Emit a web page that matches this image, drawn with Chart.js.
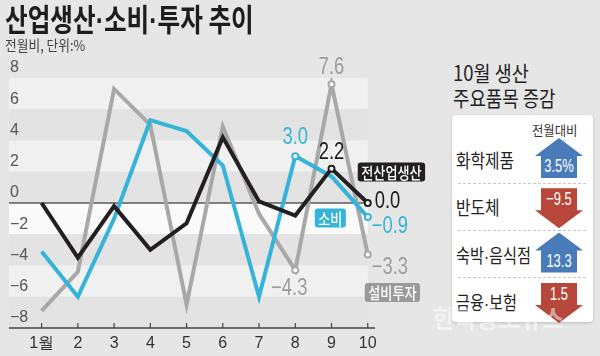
<!DOCTYPE html>
<html><head><meta charset="utf-8">
<script src="https://cdn.jsdelivr.net/npm/chart.js@4"></script>
<style>
html,body{margin:0;padding:0;}
body{width:600px;height:356px;overflow:hidden;background:#e6e6e6;position:relative;font-family:'Noto Sans CJK KR',sans-serif;}
.t{position:absolute;white-space:nowrap;transform-origin:0 0;z-index:3;}
.d{font-family:'Liberation Sans',sans-serif;}
#c{position:absolute;left:0;top:0;z-index:1;}
#card{position:absolute;left:452px;top:115px;width:141px;height:207px;background:#fff;border-radius:4px;box-shadow:0 1px 3px rgba(0,0,0,0.18);z-index:2;}
.arrow{position:absolute;width:48px;height:40px;z-index:3;}
.arrow span{position:absolute;left:0;width:48px;text-align:center;color:#fff;font-family:'Liberation Sans',sans-serif;font-size:19px;line-height:20px;transform:scaleX(0.68);}
.sep{position:absolute;left:458px;width:128px;height:0;border-top:1px dashed #c8c8c8;z-index:3;}
</style></head>
<body>
<canvas id="c" width="440" height="356"></canvas>
<div class="t" style="left:5px;top:1px;font-weight:700;font-size:31px;line-height:34px;color:#1d1d1d;transform:scaleX(0.795);">산업생산<span class="d">·</span>소비<span class="d">·</span>투자 추이</div>
<div class="t" style="left:5px;top:36px;font-size:15px;line-height:18px;color:#444;transform:scaleX(0.85);">전월비, 단위:%</div>
<div class="t" style="left:453px;top:59px;font-size:21px;line-height:26px;color:#222;transform:scaleX(0.88);">10월 생산</div>
<div class="t" style="left:453px;top:84px;font-size:21px;line-height:26px;color:#222;transform:scaleX(0.85);">주요품목 증감</div>
<div id="card"></div>
<div class="t" style="left:532px;top:122px;font-size:13px;line-height:16px;color:#333;transform:scaleX(0.95);">전월대비</div>
<div id="rows"></div>
<div class="t" style="left:433px;top:302px;font-weight:700;font-size:25px;line-height:30px;color:rgba(255,255,255,0.5);z-index:4;transform:scaleX(0.95);">한국공보뉴스</div>
<script>
// ---- data ----
const categories = ['1월','2','3','4','5','6','7','8','9','10'];
const production = [0.0, -3.5, -0.2, -3.0, -1.3, 4.2, 0.1, -0.8, 2.2, 0.0];
const consumption = [-3.1, -6.0, -1.0, 5.3, 4.6, 2.4, -6.0, 3.0, 1.7, -0.9];
const investment = [-6.9, -4.4, 7.3, 5.0, -6.5, 4.9, -0.7, -4.3, 7.6, -3.3];
const yTicks = [-8, -6, -4, -2, 0, 2, 4, 6, 8];
const seriesNames = ['전산업생산', '소비', '설비투자'];
const markedProduction = [8, 9];
const markedConsumption = [7, 9];
const markedInvestment = [7, 8, 9];
const itemNames = ['화학제품', '반도체', '숙박·음식점', '금융·보험'];
const itemLabels = ['3.5%', '−9.5', '13.3', '1.5'];
const itemDirections = ['up', 'down', 'up', 'down'];

const NUMF = "'Liberation Sans',sans-serif";
const KR = "'Noto Sans CJK KR',sans-serif";
const COLORS = ['#231f20', '#35b4d9', '#a8a8a8'];
const LABEL_COLORS = ['#1a1a1a', '#35b4d9', '#9c9c9c'];
const TAG_BG = ['#231f20', '#35b4d9', '#9a9a9a'];

const fmt = v => (v < 0 ? '−' : '') + Math.abs(v).toFixed(1);
const toPts = arr => arr.map((v, i) => ({x: i + 1, y: v}));
const radii = (arr, marked) => arr.map((v, i) => marked.includes(i) ? 3 : 0);

const seriesValues = [production, consumption, investment];
const seriesMarked = [markedProduction, markedConsumption, markedInvestment];

const annotations = [
  {ds: 0, idx: 8, dx: 0, dy: -16, align: 'center'},
  {ds: 0, idx: 9, dx: 7, dy: -1, align: 'left'},
  {ds: 1, idx: 7, dx: 0, dy: -18, align: 'center'},
  {ds: 1, idx: 9, dx: 4, dy: 10, align: 'left'},
  {ds: 2, idx: 7, dx: -6, dy: 18, align: 'center'},
  {ds: 2, idx: 8, dx: 0, dy: -17, align: 'center'},
  {ds: 2, idx: 9, dx: 4, dy: 13, align: 'left'},
];
const tags = [
  {ds: 0, dx: -10, dy: -31},
  {ds: 1, dx: -53, dy: 1},
  {ds: 2, dx: -3, dy: 38},
];

const bgPlugin = {
  id: 'bg',
  beforeDraw(chart) {
    const {ctx, chartArea, scales: {x, y}} = chart;
    const left = chartArea.left;
    const right = x.getPixelForValue(categories.length);
    ctx.save();
    const desc = yTicks.slice().sort((a, b) => b - a);
    for (let i = 0; i < desc.length - 1; i++) {
      const y1 = y.getPixelForValue(desc[i]);
      const y2 = y.getPixelForValue(desc[i + 1]);
      ctx.fillStyle = desc[i] === 0 ? '#fafafa' : (i % 2 === 0 ? '#f0f0f0' : '#e3e3e3');
      ctx.fillRect(left, y1, right - left, y2 - y1);
    }
    ctx.strokeStyle = '#5a5a5a';
    ctx.lineWidth = 1.5;
    const y0 = y.getPixelForValue(0);
    ctx.beginPath(); ctx.moveTo(left, y0); ctx.lineTo(right, y0); ctx.stroke();
    const yb = y.getPixelForValue(yTicks[0]);
    ctx.strokeStyle = '#444';
    ctx.beginPath(); ctx.moveTo(left, yb); ctx.lineTo(chartArea.right, yb); ctx.stroke();
    ctx.lineWidth = 1.2;
    categories.forEach((c, i) => {
      const px = x.getPixelForValue(i + 1);
      ctx.beginPath(); ctx.moveTo(px, yb); ctx.lineTo(px, yb - 5); ctx.stroke();
    });
    ctx.restore();
  }
};

function roundRect(ctx, x, y, w, h, r) {
  ctx.beginPath();
  ctx.moveTo(x + r, y);
  ctx.lineTo(x + w - r, y); ctx.quadraticCurveTo(x + w, y, x + w, y + r);
  ctx.lineTo(x + w, y + h - r); ctx.quadraticCurveTo(x + w, y + h, x + w - r, y + h);
  ctx.lineTo(x + r, y + h); ctx.quadraticCurveTo(x, y + h, x, y + h - r);
  ctx.lineTo(x, y + r); ctx.quadraticCurveTo(x, y, x + r, y);
  ctx.closePath();
}

const labelPlugin = {
  id: 'vals',
  afterDatasetsDraw(chart) {
    const {ctx} = chart;
    ctx.save();
    ctx.textBaseline = 'middle';
    ctx.font = '23px ' + NUMF;
    const sxv = 0.8;
    annotations.forEach(a => {
      const pt = chart.getDatasetMeta(a.ds).data[a.idx];
      const v = chart.data.datasets[a.ds].data[a.idx].y;
      ctx.save();
      ctx.translate(pt.x + a.dx, pt.y + a.dy);
      ctx.scale(sxv, 1);
      ctx.fillStyle = LABEL_COLORS[a.ds];
      ctx.textAlign = a.align;
      ctx.fillText(fmt(v), 0, 0);
      ctx.restore();
    });
    tags.forEach(t => {
      const meta = chart.getDatasetMeta(t.ds);
      const pt = meta.data[meta.data.length - 1];
      const name = seriesNames[t.ds];
      ctx.font = '500 16px ' + KR;
      const sx = 0.82;
      const w = ctx.measureText(name).width * sx + 7;
      const h = 19;
      const bx = pt.x + t.dx, by = pt.y + t.dy - h / 2;
      ctx.fillStyle = TAG_BG[t.ds];
      roundRect(ctx, bx, by, w, h, 3);
      ctx.fill();
      ctx.save();
      ctx.translate(bx + w / 2, by + h / 2 + 0.5);
      ctx.scale(sx, 1);
      ctx.fillStyle = '#fff';
      ctx.textAlign = 'center';
      ctx.fillText(name, 0, 0);
      ctx.restore();
    });
    ctx.restore();
  }
};

const datasets = seriesValues.map((vals, s) => ({
  label: seriesNames[s],
  data: toPts(vals),
  borderColor: COLORS[s],
  borderWidth: 4,
  tension: 0,
  fill: false,
  borderJoinStyle: 'miter',
  pointRadius: radii(vals, seriesMarked[s]),
  pointBackgroundColor: '#fff',
  pointBorderColor: COLORS[s],
  pointBorderWidth: 2,
  pointHoverRadius: 0,
}));

new Chart(document.getElementById('c'), {
  type: 'line',
  data: {datasets},
  options: {
    responsive: false,
    animation: false,
    events: [],
    layout: {padding: {left: 7, right: 65, top: 78, bottom: 0}},
    plugins: {legend: {display: false}, tooltip: {enabled: false}},
    scales: {
      x: {
        type: 'linear', min: 0.1, max: 10.2,
        afterBuildTicks: a => { a.ticks = categories.map((c, i) => ({value: i + 1})); },
        afterFit: a => { a.height = 28; },
        ticks: {
          callback: v => categories[Math.round(v) - 1] ?? '',
          font: {family: NUMF, size: 16}, color: '#333', padding: 6,
          maxRotation: 0, autoSkip: false
        },
        grid: {display: false, drawTicks: false},
        border: {display: false}
      },
      y: {
        min: yTicks[0], max: yTicks[yTicks.length - 1],
        afterBuildTicks: a => { a.ticks = yTicks.map(v => ({value: v})); },
        ticks: {
          mirror: true, padding: 1, labelOffset: -10,
          callback: v => (v < 0 ? '−' : '') + Math.abs(v),
          font: {family: NUMF, size: 16}, color: '#555'
        },
        grid: {display: false, drawTicks: false},
        border: {display: false}
      }
    }
  },
  plugins: [bgPlugin, labelPlugin]
});

const rows = document.getElementById('rows');
itemNames.forEach((name, i) => {
  const cy = 160 + i * 47.3;
  const n = document.createElement('div');
  n.className = 't';
  n.innerHTML = name.split('·').join('<span class="d">·</span>');
  const sx = name.includes('·') ? 0.8 : 0.83;
  n.style.cssText = `left:456px;top:${cy - 13}px;font-size:19px;line-height:26px;color:#222;transform:scaleX(${sx});`;
  rows.appendChild(n);
  const a = document.createElement('div');
  a.className = 'arrow';
  const up = itemDirections[i] === 'up';
  a.style.left = '535px';
  a.style.top = (up ? cy - 22 : cy - 19) + 'px';
  a.style.background = up ? '#4a7bb9' : '#b6473a';
  a.style.clipPath = up
    ? 'polygon(50% 0, 100% 18px, 42px 18px, 42px 100%, 6px 100%, 6px 18px, 0 18px)'
    : 'polygon(6px 0, 42px 0, 42px 22px, 100% 22px, 50% 100%, 0 22px, 6px 22px)';
  const s = document.createElement('span');
  s.textContent = itemLabels[i];
  s.style.top = (up ? 18 : 1) + 'px';
  s.style.transformOrigin = '50% 50%';
  a.appendChild(s);
  rows.appendChild(a);
  if (i < itemNames.length - 1) {
    const d = document.createElement('div');
    d.className = 'sep';
    d.style.top = (cy + 22.5) + 'px';
    rows.appendChild(d);
  }
});
</script>
</body></html>
